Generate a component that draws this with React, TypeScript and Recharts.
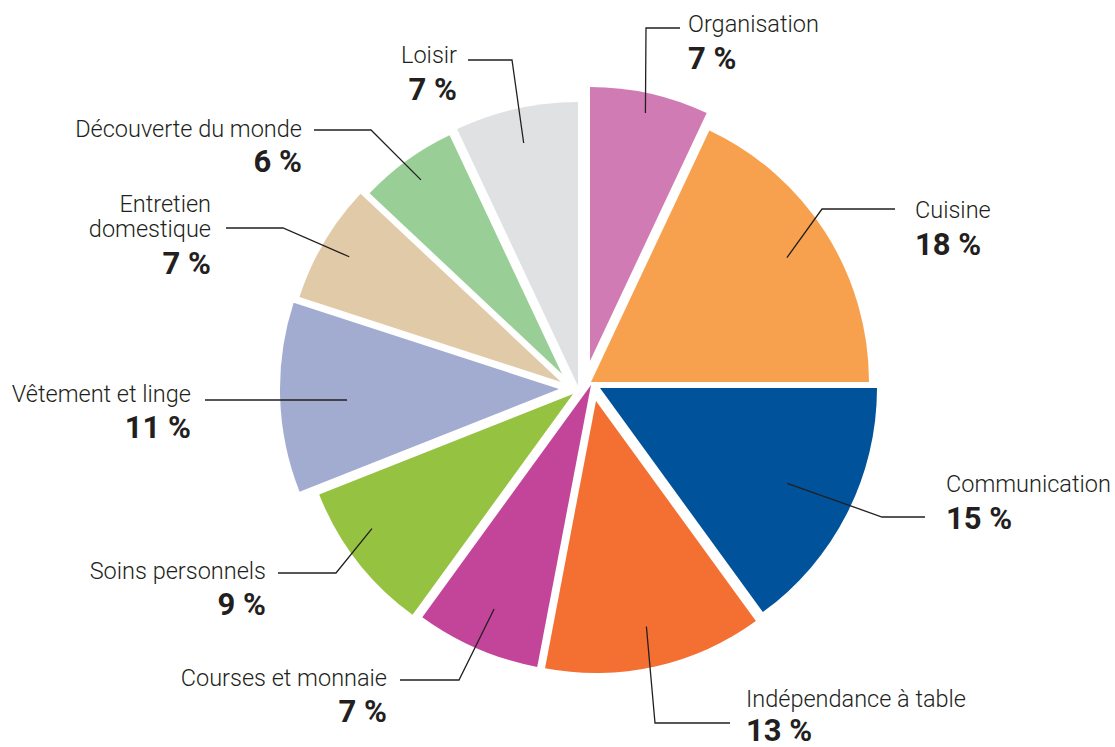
import { PieChart, Pie, Cell } from "recharts";

const categories = [
  "Organisation",
  "Cuisine",
  "Communication",
  "Indépendance à table",
  "Courses et monnaie",
  "Soins personnels",
  "Vêtement et linge",
  "Entretien domestique",
  "Découverte du monde",
  "Loisir",
];

const shares = [7, 18, 15, 13, 7, 9, 11, 7, 6, 7];

// how each category name is broken over lines in the labels
const nameLines = [
  ["Organisation"],
  ["Cuisine"],
  ["Communication"],
  ["Indépendance à table"],
  ["Courses et monnaie"],
  ["Soins personnels"],
  ["Vêtement et linge"],
  ["Entretien", "domestique"],
  ["Découverte du monde"],
  ["Loisir"],
];

const COLORS = [
  "#d07bb3",
  "#f7a14e",
  "#00529b",
  "#f37032",
  "#c2459a",
  "#95c240",
  "#a2acd0",
  "#e0caa7",
  "#99cf96",
  "#e0e1e3",
];

const INK = "#231f20";

// each slice is drawn exploded: its own apex and radius, plus label layout
type SliceLayout = {
  cx: number;
  cy: number;
  r: number;
  lead: number;
  shift?: number;
  elbow: [number, number];
  end: number;
  tx: number;
  anchor: "start" | "end";
  ny: number;
  py: number;
};

const LAYOUT: SliceLayout[] = [
  { cx: 590, cy: 361, r: 274, lead: 254, elbow: [646, 28], end: 680, tx: 688, anchor: "start", ny: 32, py: 69 },
  { cx: 591, cy: 382, r: 278, lead: 232, elbow: [822, 209], end: 895, tx: 915, anchor: "start", ny: 218, py: 255 },
  { cx: 600, cy: 388, r: 277, lead: 210, elbow: [882, 517], end: 925, tx: 946, anchor: "start", ny: 492, py: 529 },
  { cx: 596, cy: 401, r: 272, lead: 231, elbow: [655, 723], end: 730, tx: 746, anchor: "start", ny: 707, py: 741 },
  { cx: 591, cy: 385, r: 287, lead: 244, elbow: [459, 680], end: 400, tx: 387, anchor: "end", ny: 686, py: 722 },
  { cx: 573, cy: 394, r: 273, lead: 242, shift: 4, elbow: [336, 573], end: 278, tx: 266, anchor: "end", ny: 579, py: 615 },
  { cx: 559, cy: 389, r: 279, lead: 213, shift: -1.2, elbow: [347, 400], end: 205, tx: 191, anchor: "end", ny: 402, py: 438 },
  { cx: 561, cy: 382, r: 275, lead: 246, elbow: [283, 228], end: 226, tx: 211, anchor: "end", ny: 212, py: 274 },
  { cx: 562, cy: 374, r: 264, lead: 240, elbow: [371, 130], end: 314, tx: 302, anchor: "end", ny: 137, py: 172 },
  { cx: 578, cy: 386, r: 284, lead: 249, elbow: [512, 60], end: 468, tx: 457, anchor: "end", ny: 63, py: 100 },
];

const data = categories.map((name, i) => ({ name, value: shares[i] }));

const RAD = Math.PI / 180;

function makeLabel(slice: number) {
  return (props: any) => {
    if (props.index !== slice) return null;
    const L = LAYOUT[slice];
    const a = (props.midAngle + (L.shift ? -L.shift : 0)) * RAD;
    const sx = props.cx + L.lead * Math.cos(-a);
    const sy = props.cy + L.lead * Math.sin(-a);
    const [ex, ey] = L.elbow;
    const lines = nameLines[slice];
    return (
      <g>
        <polyline
          points={`${sx},${sy} ${ex},${ey} ${L.end},${ey}`}
          fill="none"
          stroke={INK}
          strokeWidth={1.3}
        />
        <text
          x={L.tx}
          y={L.ny}
          textAnchor={L.anchor}
          fill={INK}
          fontFamily="Roboto, sans-serif"
          fontWeight={300}
          fontSize={23.5}
        >
          {lines.map((ln, k) => (
            <tspan key={k} x={L.tx} dy={k === 0 ? 0 : 25}>
              {ln}
            </tspan>
          ))}
        </text>
        <text
          x={L.tx}
          y={L.py}
          textAnchor={L.anchor}
          fill={INK}
          fontFamily="Roboto, sans-serif"
          fontWeight={700}
          fontSize={31}
        >
          {`${props.value} %`}
        </text>
      </g>
    );
  };
}

export default function App() {
  return (
    <div style={{ position: "absolute", left: 0, top: 0, background: "#fff" }}>
      <PieChart
        width={1115}
        height={747}
        margin={{ top: 0, right: 0, bottom: 0, left: 0 }}
      >
        {LAYOUT.map((L, s) => (
          <Pie
            key={categories[s]}
            data={data}
            dataKey="value"
            nameKey="name"
            cx={L.cx}
            cy={L.cy}
            innerRadius={0}
            outerRadius={L.r}
            startAngle={90}
            endAngle={-270}
            stroke="none"
            labelLine={false}
            label={makeLabel(s)}
            isAnimationActive={false}
          >
            {data.map((d, i) => (
              <Cell
                key={d.name}
                fill={i === s ? COLORS[i] : "none"}
                stroke="none"
              />
            ))}
          </Pie>
        ))}
      </PieChart>
    </div>
  );
}
